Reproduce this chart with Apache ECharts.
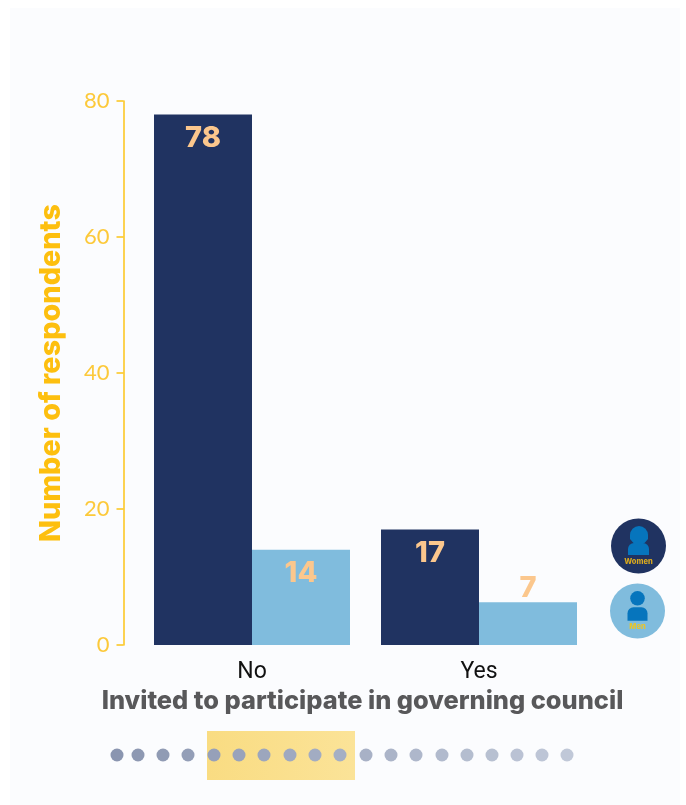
<!DOCTYPE html>
<html><head><meta charset="utf-8">
<style>html,body{margin:0;padding:0;background:#fff}#c{width:686px;height:805px}</style>
<script src="https://cdn.jsdelivr.net/npm/echarts@6/dist/echarts.min.js"></script>
</head><body><div id="c"></div>
<script>
const categories = ['No','Yes'];
const women = [78,17];
const men = [14,6.3];
const womenLabels = ['78','17'];
const menLabels = ['14','7'];
const yTicks = [0,20,40,60,80];
const dotXs = [117,138,163,188,214,239,264,290,315,340,366,391,416,442,467,492,517,542,567];
const font = 'Inter';
function lab(v, text, pos, dist){
  return {value:v,label:{show:true,position:pos,distance:dist,formatter:text,color:'#fbc78d',fontFamily:font,fontWeight:800,fontSize:29,letterSpacing:2}};
}
const chart = echarts.init(document.getElementById('c'),null,{renderer:'canvas'});
const dots = dotXs.map((x,i)=>{
  const t=i/18, mix=(a,b)=>Math.round(a+(b-a)*t);
  return {type:'circle',shape:{cx:x,cy:755,r:6.5},z:3,style:{fill:`rgb(${mix(138,192)},${mix(149,200)},${mix(176,216)})`}};
});
function avatar(cx,cy,bg,female,label,labelColor){
  const c = '#0675bd';
  const out = [{type:'circle',shape:{cx:cx,cy:cy,r:27.5},style:{fill:bg},z:3}];
  if(female){
    out.push({type:'circle',z:4,shape:{cx:cx+0.5,cy:cy-11,r:9},style:{fill:c}});
    out.push({type:'polygon',z:4,shape:{points:[[cx-8.5,cy-11],[cx+9.5,cy-11],[cx+9.5,cy-7],[cx+6,cy-3],[cx-5,cy-3],[cx-8.5,cy-7]]},style:{fill:c}});
    out.push({type:'rect',z:4,shape:{x:cx-10.5,y:cy-3,width:21,height:12,r:[6,6,0,0]},style:{fill:c}});
  } else {
    out.push({type:'circle',z:4,shape:{cx:cx,cy:cy-12.7,r:7.3},style:{fill:c}});
    out.push({type:'rect',z:4,shape:{x:cx-10,y:cy-3.7,width:20,height:13.4,r:[6,6,0,0]},style:{fill:c}});
  }
  out.push({type:'text',z:4,x:cx,y:cy+16,style:{text:label,fill:labelColor,fontFamily:'Inter',fontWeight:800,fontSize:7.5,align:'center',verticalAlign:'middle'}});
  return out;
}
chart.setOption({
  animation:false,
  backgroundColor:'#ffffff',
  grid:{left:138.5,right:93.5,top:101,bottom:160},
  xAxis:{type:'category',data:categories,
    axisLine:{show:false},axisTick:{show:false},
    axisLabel:{color:'#111',fontFamily:'Roboto',fontSize:23,letterSpacing:-1.5,margin:16},
    name:'Invited to participate in governing council',nameLocation:'middle',nameGap:44,
    nameTextStyle:{color:'#58585a',fontFamily:font,fontWeight:800,fontSize:25.4,padding:[0,6,0,0]}},
  yAxis:{type:'value',min:0,max:80,interval:20,offset:15,
    axisLine:{show:true,lineStyle:{color:'#fcc419',width:1.5,opacity:1}},
    axisTick:{show:true,length:7,lineStyle:{color:'#fcc419',width:1.5,opacity:1}},
    splitLine:{show:false},
    axisLabel:{color:'#fcc93a',fontFamily:'Lato',fontWeight:400,fontSize:22,margin:14,
      formatter:v=>yTicks.includes(v)?String(v):''},
    name:'Number of respondents',nameLocation:'middle',nameGap:58,nameRotate:90,
    nameTextStyle:{color:'#fdbf0f',fontFamily:font,fontWeight:800,fontSize:28.8}},
  series:[
    {type:'bar',name:'Women',data:women.map((v,i)=>lab(v,womenLabels[i],'insideTop',9)),barWidth:98,barGap:'0%',itemStyle:{color:'#203361'}},
    {type:'bar',name:'Men',data:[lab(men[0],menLabels[0],'insideTop',9),lab(men[1],menLabels[1],'top',-1)],barWidth:98,barGap:'0%',itemStyle:{color:'#80bcdd'}}
  ],
  graphic:{elements:[
    {type:'rect',shape:{x:10,y:8,width:670,height:797},style:{fill:'#fbfcfe'},z:-10,silent:true},
    {type:'rect',shape:{x:207,y:731,width:148,height:49},z:2,
      style:{fill:new echarts.graphic.LinearGradient(0,0,1,0,[{offset:0,color:'#f9dc82'},{offset:1,color:'#fbe398'}])}},
    ...dots,
    ...avatar(638.5,546,'#203361',true,'Women','#d9a91e'),
    ...avatar(637.5,611,'#80bcdd',false,'Men','#e8c52a')
  ]}
});
</script></body></html>
